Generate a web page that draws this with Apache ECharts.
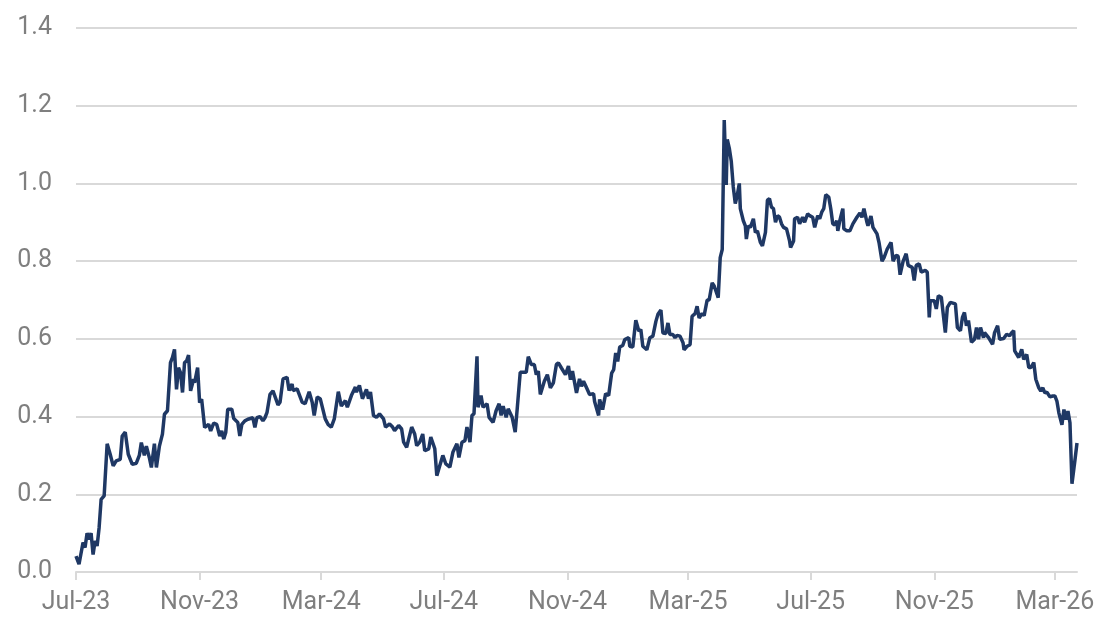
<!DOCTYPE html>
<html>
<head>
<meta charset="utf-8">
<script src="https://cdn.jsdelivr.net/npm/echarts@6/dist/echarts.min.js"></script>
<style>
  html, body { margin: 0; padding: 0; background: #fff; }
  #main { width: 1105px; height: 635px; }
</style>
</head>
<body>
<div id="main"></div>
<script>
// readings as [days since 1 Jul 2023, value]
var readings = [
  [0,0.041],[3,0.02],[7,0.076],[9,0.063],[11,0.10],[13,0.084],[15,0.10],[17,0.045],[19,0.08],[21,0.067],
  [23,0.114],[25,0.187],[28,0.196],[31,0.33],[34,0.303],[37,0.273],[40,0.286],[44,0.29],[46,0.35],[49,0.36],
  [52,0.303],[56,0.277],[60,0.28],[63,0.30],[65,0.333],[68,0.30],[70,0.324],[73,0.294],[75,0.269],[78,0.33],
  [80,0.269],[83,0.324],[86,0.355],[88,0.406],[91,0.415],[94,0.539],[96,0.552],[98,0.573],[100,0.47],[102,0.526],
  [104,0.513],[106,0.462],[108,0.539],[110,0.543],[112,0.558],[114,0.466],[117,0.496],[118,0.487],[121,0.526],[123,0.436],
  [125,0.445],[128,0.372],[132,0.38],[134,0.363],[137,0.383],[140,0.38],[143,0.35],[145,0.363],[147,0.342],[149,0.359],
  [151,0.419],[155,0.419],[157,0.395],[161,0.385],[163,0.35],[165,0.38],[168,0.389],[171,0.393],[176,0.397],[178,0.372],
  [180,0.397],[183,0.40],[186,0.389],[188,0.397],[190,0.41],[193,0.457],[196,0.466],[201,0.43],
  [203,0.437],[206,0.497],[210,0.501],[212,0.467],[215,0.484],[216,0.467],[220,0.471],[225,0.437],[228,0.433],[232,0.464],
  [235,0.437],[237,0.403],[240,0.45],[243,0.446],[248,0.394],[251,0.379],[254,0.373],[257,0.394],[261,0.464],[264,0.427],
  [268,0.441],[270,0.424],[274,0.454],[278,0.476],[279,0.463],[282,0.48],[285,0.446],[289,0.47],[291,0.446],[293,0.463],
  [296,0.403],[299,0.398],[302,0.407],[306,0.394],[308,0.373],[312,0.381],[315,0.373],[317,0.364],[321,0.377],[324,0.368],
  [326,0.334],[329,0.321],[334,0.373],[337,0.355],[339,0.325],[342,0.334],[345,0.355],[347,0.312],[351,0.317],[353,0.347],
  [356,0.325],[357,0.317],[359,0.248],[362,0.274],[365,0.30],[368,0.278],[372,0.27],[375,0.308],[379,0.33],[381,0.295],
  [384,0.334],[387,0.338],[389,0.373],[392,0.334],[394,0.403],[396,0.407],[399,0.555],[400,0.424],[403,0.454],[405,0.424],
  [409,0.433],[411,0.398],[415,0.385],[418,0.415],[421,0.433],[423,0.403],[425,0.427],[428,0.398],[430,0.42],[434,0.398],
  [437,0.36],[439,0.42],[442,0.514],
  [448,0.514],[450,0.554],[453,0.534],[456,0.534],[458,0.508],[460,0.517],[462,0.457],[466,0.491],[469,0.508],[472,0.474],
  [475,0.487],[478,0.534],[480,0.538],[483,0.525],[487,0.508],[490,0.530],[492,0.495],[494,0.517],[498,0.461],[501,0.497],
  [503,0.478],[505,0.491],[508,0.474],[511,0.457],[515,0.459],[516,0.439],[520,0.403],[521,0.444],[524,0.418],[527,0.459],
  [530,0.454],[533,0.512],[535,0.521],[537,0.564],[539,0.542],[541,0.579],[544,0.583],[546,0.598],[550,0.603],[551,0.581],
  [554,0.579],[557,0.648],[560,0.62],[562,0.624],[564,0.581],[568,0.572],[571,0.603],[574,0.607],[577,0.645],[579,0.663],
  [582,0.674],[584,0.615],[587,0.614],[589,0.641],[591,0.611],[594,0.611],[596,0.603],[598,0.609],[601,0.607],[604,0.59],
  [605,0.572],[608,0.581],[611,0.585],[613,0.658],[616,0.665],[618,0.684],[620,0.654],[623,0.665],[625,0.66],[628,0.70],
  [630,0.70],[633,0.744],[635,0.736],[638,0.714],[639,0.706],[641,0.809],[643,0.83],
  [645,1.163],[647,0.996],[648,1.113],[650,1.091],[652,1.057],[654,0.991],[656,0.948],[658,0.97],[660,1.0],[661,0.935],
  [664,0.904],[666,0.891],[667,0.857],[669,0.891],[671,0.887],[674,0.909],[676,0.874],[678,0.878],[681,0.848],[683,0.839],
  [686,0.874],[688,0.957],[690,0.961],[692,0.939],[694,0.935],[696,0.90],[698,0.917],[700,0.913],[702,0.896],[704,0.887],
  [707,0.883],[710,0.852],[711,0.835],[714,0.852],[715,0.909],[718,0.913],[720,0.896],[723,0.913],[725,0.90],[728,0.922],
  [730,0.917],[733,0.913],[735,0.887],[738,0.917],[740,0.909],[742,0.926],[744,0.935],[746,0.971],[749,0.965],[751,0.935],
  [753,0.896],[755,0.893],[757,0.904],[758,0.878],[760,0.904],[763,0.935],[764,0.883],[767,0.878],[770,0.878],[773,0.896],
  [777,0.913],[780,0.924],[782,0.913],[784,0.935],[787,0.90],[788,0.891],[791,0.916],[793,0.887],[797,0.87],[799,0.848],
  [802,0.80],[804,0.809],[807,0.83],[811,0.848],[813,0.80],[816,0.815],[818,0.813],[820,0.765],
  [823,0.80],[826,0.819],[828,0.789],[832,0.784],[834,0.75],[836,0.789],[839,0.793],[841,0.772],[845,0.776],[847,0.772],
  [849,0.655],[850,0.698],[854,0.698],[856,0.677],[858,0.711],[861,0.707],[865,0.616],[867,0.681],[870,0.694],[875,0.69],
  [877,0.629],[880,0.621],[882,0.655],[884,0.668],[886,0.634],[888,0.647],[891,0.591],[894,0.599],[896,0.629],[898,0.599],
  [900,0.629],[903,0.603],[904,0.616],[908,0.603],[912,0.586],[914,0.616],[917,0.634],[919,0.599],[923,0.601],[926,0.612],
  [929,0.608],[931,0.616],[933,0.621],[934,0.569],[938,0.552],[941,0.573],[943,0.547],[946,0.56],[948,0.526],[950,0.526],
  [953,0.539],[955,0.496],[958,0.474],[960,0.466],[962,0.474],[964,0.461],[966,0.463],[969,0.451],[972,0.453],[974,0.453],
  [976,0.44],[978,0.409],[981,0.379],[983,0.418],[985,0.392],[987,0.414],[989,0.384],[991,0.227],[994,0.289],[996,0.332]
];

var tickDates = ['2023-07-01', '2023-11-01', '2024-03-01', '2024-07-01', '2024-11-01',
                 '2025-03-01', '2025-07-01', '2025-11-01', '2026-03-01'];
var tickLabels = ['Jul-23', 'Nov-23', 'Mar-24', 'Jul-24', 'Nov-24',
                  'Mar-25', 'Jul-25', 'Nov-25', 'Mar-26'];

var DAY = 86400000;
var start = Date.UTC(2023, 6, 1);

function toTime(s) {
  var p = s.split('-');
  return Date.UTC(+p[0], +p[1] - 1, +p[2]);
}

var tickTimes = tickDates.map(toTime);
var lineData = readings.map(function (r) {
  return [start + r[0] * DAY, r[1]];
});

var chart = echarts.init(document.getElementById('main'));

var option = {
  animation: false,
  backgroundColor: '#fff',
  textStyle: { fontFamily: 'Roboto' },
  grid: { left: 76, right: 28, top: 28, bottom: 63 },
  xAxis: {
    type: 'value',
    min: start,
    max: lineData[lineData.length - 1][0],
    axisLine: { show: true, lineStyle: { color: '#d9d9d9', width: 2 } },
    axisTick: {
      show: true,
      customValues: tickTimes,
      length: 8,
      lineStyle: { color: '#d9d9d9', width: 2 }
    },
    axisLabel: {
      customValues: tickTimes,
      color: '#7f7f7f',
      fontSize: 25,
      margin: 18,
      formatter: function (v) {
        var i = tickTimes.indexOf(v);
        return i >= 0 ? tickLabels[i] : '';
      }
    },
    splitLine: { show: false }
  },
  yAxis: {
    type: 'value',
    min: 0,
    max: 1.4,
    interval: 0.2,
    axisLine: { show: false },
    axisTick: { show: false },
    axisLabel: {
      color: '#7f7f7f',
      fontSize: 25,
      margin: 24,
      formatter: function (v) { return v.toFixed(1); }
    },
    splitLine: { lineStyle: { color: '#d9d9d9', width: 2 } }
  },
  series: [
    {
      type: 'line',
      data: lineData,
      showSymbol: false,
      lineStyle: { color: '#1f3864', width: 3.5 },
      itemStyle: { color: '#1f3864' }
    }
  ]
};

chart.setOption(option);
</script>
</body>
</html>
